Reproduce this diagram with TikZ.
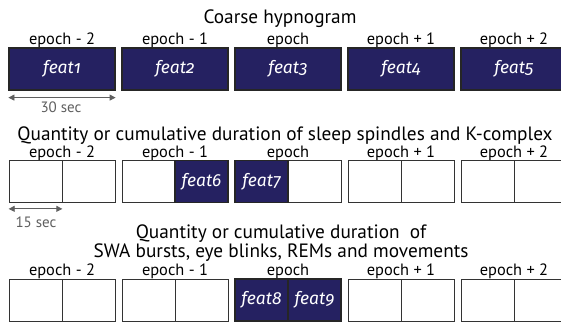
\documentclass[tikz,border=0pt]{standalone}
\usepackage{fontspec}
\setmainfont{PT Sans}
\newfontfamily\featfont[Numbers=OldStyle]{Fira Sans}
\usetikzlibrary{arrows.meta,positioning}
\definecolor{featblue}{RGB}{37,33,97}
\definecolor{spangray}{RGB}{95,95,95}

\begin{document}
\begin{tikzpicture}[x=1pt, y=-1pt,
  full/.style={draw=black!85, line width=1.2pt, fill=featblue, minimum width=106pt, minimum height=42pt, inner sep=0pt, text=white, font=\featfont\fontsize{17.5}{17.5}\selectfont\itshape},
  halffeat/.style={full, minimum width=53pt},
  half/.style={draw=black!80, line width=0.7pt, fill=white, minimum width=53pt, minimum height=42pt, inner sep=0pt},
  ep/.style={font=\fontsize{16.4}{16.4}\selectfont, inner sep=0pt, anchor=base},
  ttl/.style={font=\fontsize{19.3}{15}\selectfont, align=center, inner sep=0pt},
  span/.style={{Triangle[length=6pt,width=6pt]}-{Triangle[length=6pt,width=6pt]}, draw=spangray, fill=spangray, line width=0.8pt},
  dimlab/.style={font=\fontsize{15}{15}\selectfont, text=spangray, inner sep=0pt, anchor=base}
]
  \useasboundingbox (0,0) rectangle (561,322);

  % coarse hypnogram
  \node[ttl, anchor=base] (t1) at (280,23) {Coarse hypnogram};
  \node[ep] (e11) at (62,44) {epoch - 2};
  \node[ep] (e12) at (175,44) {epoch - 1};
  \node[ep] (e13) at (288,44) {epoch};
  \node[ep] (e14) at (401,44) {epoch + 1};
  \node[ep] (e15) at (514,44) {epoch + 2};
  \node[full] (c1) at (62,69) {feat1};
  \node[full] (c2) at (175,69) {feat2};
  \node[full] (c3) at (288,69) {feat3};
  \node[full] (c4) at (401,69) {feat4};
  \node[full] (c5) at (514,69) {feat5};
  \draw[span] ([yshift=-7pt]c1.south west) -- ([yshift=-7pt]c1.south east);
  \node[dimlab] (d1) at (61,112) {30 sec};

  % spindles and K-complex
  \node[ttl, anchor=base] (t2) at (285,140) {Quantity or cumulative duration of sleep spindles and K-complex};
  \node[ep] (e21) at (62,157) {epoch - 2};
  \node[ep] (e22) at (175,157) {epoch - 1};
  \node[ep] (e23) at (288,157) {epoch};
  \node[ep] (e24) at (401,157) {epoch + 1};
  \node[ep] (e25) at (514,157) {epoch + 2};
  \node[half] (s1a) at (35.5,181.5) {};
  \node[half] (s1b) at (88.5,181.5) {};
  \node[half] (s2a) at (148.5,181.5) {};
  \node[half] (s3b) at (314.5,181.5) {};
  \node[half] (s4a) at (374.5,181.5) {};
  \node[half] (s4b) at (427.5,181.5) {};
  \node[half] (s5a) at (487.5,181.5) {};
  \node[half] (s5b) at (540.5,181.5) {};
  \node[halffeat] (s2b) at (201.5,181.5) {feat6};
  \node[halffeat] (s3a) at (261.5,181.5) {feat7};
  \draw[span] ([yshift=-6pt]s1a.south west) -- ([yshift=-6pt]s1a.south east);
  \node[dimlab] (d2) at (36,227) {15 sec};

  % SWA, blinks, REMs, movements
  \node[ttl] (t3) at (281,243) {Quantity or cumulative duration~ of\\SWA bursts, eye blinks, REMs and movements};
  \node[ep] (e31) at (62,275) {epoch - 2};
  \node[ep] (e32) at (175,275) {epoch - 1};
  \node[ep] (e33) at (288,275) {epoch};
  \node[ep] (e34) at (401,275) {epoch + 1};
  \node[ep] (e35) at (514,275) {epoch + 2};
  \node[half] (m1a) at (35.5,300) {};
  \node[half] (m1b) at (88.5,300) {};
  \node[half] (m2a) at (148.5,300) {};
  \node[half] (m2b) at (201.5,300) {};
  \node[half] (m4a) at (374.5,300) {};
  \node[half] (m4b) at (427.5,300) {};
  \node[half] (m5a) at (487.5,300) {};
  \node[half] (m5b) at (540.5,300) {};
  \node[halffeat] (m3a) at (261.5,300) {feat8};
  \node[halffeat] (m3b) at (314.5,300) {feat9};
\end{tikzpicture}
\end{document}
